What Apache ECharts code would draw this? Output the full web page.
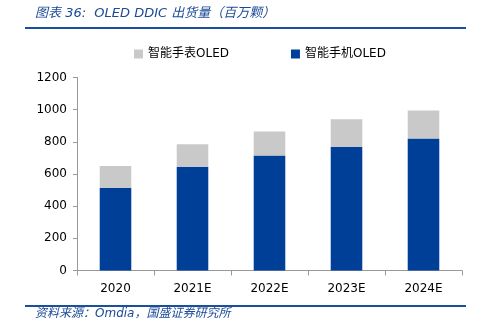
<!DOCTYPE html>
<html>
<head>
<meta charset="utf-8">
<script src="https://cdn.jsdelivr.net/npm/echarts@6/dist/echarts.min.js"></script>
<style>html,body{margin:0;padding:0;background:#fff;}#c{width:484px;height:329px;}</style>
</head>
<body>
<div id="c"></div>
<script>
var categories = ['2020', '2021E', '2022E', '2023E', '2024E'];
var phoneOLED = [515, 645, 715, 770, 820];
var watchOLED = [135, 140, 150, 170, 175];
var yTicks = [0, 200, 400, 600, 800, 1000, 1200];
var seriesNames = ['智能手表OLED', '智能手机OLED'];
var titleText = '图表 36:  OLED DDIC 出货量（百万颗）';
var sourceText = '资料来源：Omdia，国盛证券研究所';

var chart = echarts.init(document.getElementById('c'));
var fontFam = '"DejaVu Sans", "Noto Sans CJK SC", sans-serif';
chart.setOption({
  animation: false,
  grid: {left: 77, right: 22, top: 77.5, bottom: 58.5},
  legend: {
    data: seriesNames,
    top: 43, left: 129,
    itemGap: 62,
    itemWidth: 9, itemHeight: 9,
    icon: 'rect',
    textStyle: {fontSize: 12, color: '#000', fontFamily: fontFam}
  },
  xAxis: {
    type: 'category',
    data: categories,
    axisLine: {lineStyle: {color: '#999'}},
    axisTick: {show: true, lineStyle: {color: '#999'}},
    axisLabel: {fontSize: 12, color: '#000', margin: 12, fontFamily: fontFam}
  },
  yAxis: {
    type: 'value',
    min: yTicks[0], max: yTicks[yTicks.length - 1], interval: 200,
    axisLine: {show: true, lineStyle: {color: '#999'}},
    axisTick: {show: true, inside: false, length: 4, lineStyle: {color: '#999'}},
    splitLine: {show: false},
    axisLabel: {fontSize: 12, color: '#000', margin: 10, fontFamily: fontFam,
      formatter: function (v) { return String(v); }}
  },
  series: [
    {
      name: seriesNames[1], type: 'bar', stack: 'a', data: phoneOLED,
      barWidth: '41%',
      itemStyle: {color: '#003f97'}
    },
    {
      name: seriesNames[0], type: 'bar', stack: 'a', data: watchOLED,
      barWidth: '41%',
      itemStyle: {color: '#c9c9c9'}
    }
  ],
  graphic: [
    {type: 'text', left: 35, top: 7, style: {text: titleText, fill: '#1b4a96', font: 'italic 13px ' + fontFam}},
    {type: 'rect', shape: {x: 25, y: 27, width: 441, height: 2}, style: {fill: '#1b4f9c'}},
    {type: 'rect', shape: {x: 25, y: 305, width: 441, height: 2}, style: {fill: '#1b4f9c'}},
    {type: 'text', left: 35, top: 308, style: {text: sourceText, fill: '#1b4a96', font: 'italic 12px ' + fontFam}}
  ]
});
</script>
</body>
</html>
